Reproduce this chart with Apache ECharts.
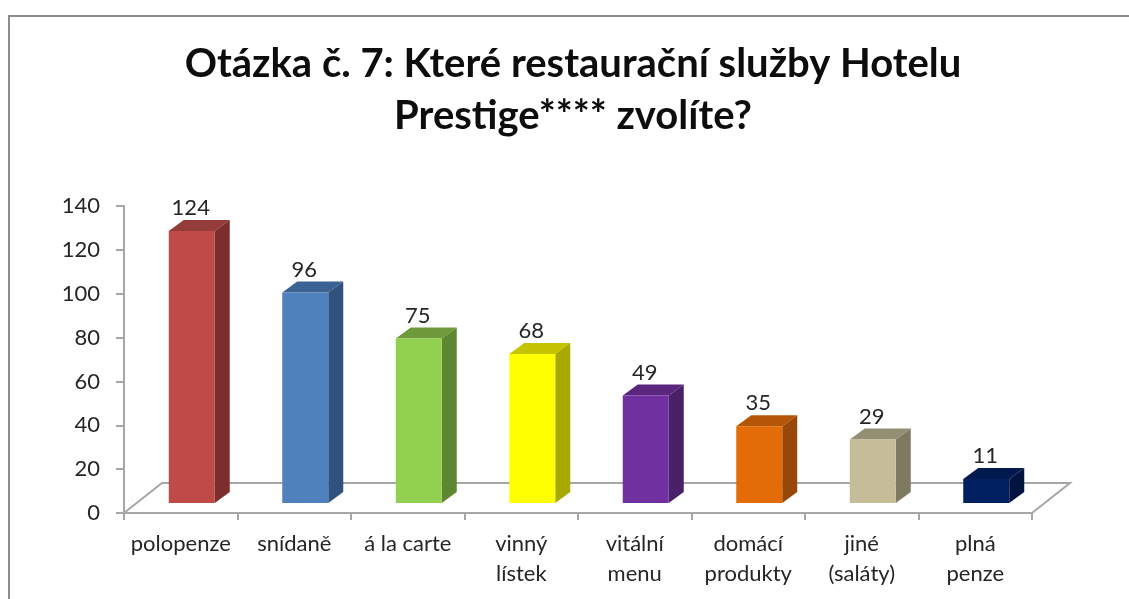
<!DOCTYPE html>
<html>
<head>
<meta charset="utf-8">
<script src="https://cdn.jsdelivr.net/npm/echarts@6/dist/echarts.min.js"></script>
<style>html,body{margin:0;padding:0;background:#fff}#c{width:1129px;height:599px}</style>
</head>
<body>
<div id="c"></div>
<script>
const titleText = 'Otázka č. 7: Které restaurační služby Hotelu\nPrestige**** zvolíte?';
const categories = ['polopenze','snídaně','á la carte','vinný\nlístek','vitální\nmenu','domácí\nprodukty','jiné\n(saláty)','plná\npenze'];
const values = [124,96,75,68,49,35,29,11];
const frontColors = ['#BE4B48','#4F81BD','#92D050','#FFFF00','#7030A0','#E36C09','#C4BD97','#002060'];
const topColors   = ['#943C39','#3A6394','#6E9A3C','#C4C400','#5A2680','#B55607','#948F72','#001A50'];
const sideColors  = ['#7D2E2C','#30527C','#5F8733','#A8A800','#4A2068','#974806','#7E7A62','#00143F'];
const FONT = 'Lato, Carlito, sans-serif', TXT = '#262626', AXIS = '#A6A6A6';
const DX = 15, DY = 11, LIFT = 10, SHIFT = 11, BAR = 46, FX = 38, FY = 30;

const chart = echarts.init(document.getElementById('c'), null, {renderer:'canvas'});
chart.setOption({
  animation:false,
  backgroundColor:'#fff',
  title:{
    text:titleText, left:568, top:33, textAlign:'center',
    textStyle:{fontFamily:FONT,fontSize:40,fontWeight:'bold',color:'#0d0d0d',lineHeight:52}
  },
  grid:{left:124,right:97,top:206,bottom:86,containLabel:false},
  xAxis:{
    type:'category', data:categories,
    axisLine:{lineStyle:{color:AXIS,width:2}},
    axisTick:{show:true,length:7,lineStyle:{color:AXIS,width:2}},
    axisLabel:{fontFamily:FONT,fontSize:22,color:TXT,margin:16,lineHeight:30,interval:0}
  },
  yAxis:{
    type:'value',min:0,max:140,interval:20,
    splitLine:{show:false},
    axisLine:{show:true,lineStyle:{color:AXIS,width:2}},
    axisTick:{show:true,length:8,lineStyle:{color:AXIS,width:2}},
    axisLabel:{fontFamily:FONT,fontSize:22,color:TXT,margin:24}
  },
  graphic:[
    {type:'polyline',silent:true,shape:{points:[[9,599],[9,16],[1129,16]]},style:{fill:null,stroke:'#8C8C8C',lineWidth:2}}
  ],
  series:[
    {
      type:'custom',silent:true,z:1,data:[0],
      renderItem(params,api){
        const c = params.coordSys, y0 = c.y + c.height, x1 = c.x + c.width;
        return {type:'polyline',shape:{points:[[c.x,y0],[c.x+FX,y0-FY],[x1+FX,y0-FY],[x1,y0]]},
          style:{fill:null,stroke:AXIS,lineWidth:2}};
      }
    },
    {
      type:'custom',silent:true,z:3,
      data:values.map((v,i)=>[i,v]),
      encode:{x:0,y:1},
      renderItem(params,api){
        const i = api.value(0), v = api.value(1);
        const p = api.coord([i,v]), b = api.coord([i,0]);
        const l = p[0]+SHIFT-BAR/2, r = l+BAR, t = p[1]-LIFT, bt = b[1]-LIFT;
        return {type:'group',children:[
          {type:'polygon',shape:{points:[[l,t],[r,t],[r+DX,t-DY],[l+DX,t-DY]]},style:{fill:topColors[i]}},
          {type:'polygon',shape:{points:[[r,t],[r+DX,t-DY],[r+DX,bt-DY],[r,bt]]},style:{fill:sideColors[i]}},
          {type:'rect',shape:{x:l,y:t,width:BAR,height:bt-t},style:{fill:frontColors[i]}},
          {type:'text',style:{x:(l+r)/2-1,y:t-23,text:String(v),align:'center',verticalAlign:'middle',
            font:'22px '+FONT,fill:TXT}}
        ]};
      }
    }
  ]
});
</script>
</body>
</html>
